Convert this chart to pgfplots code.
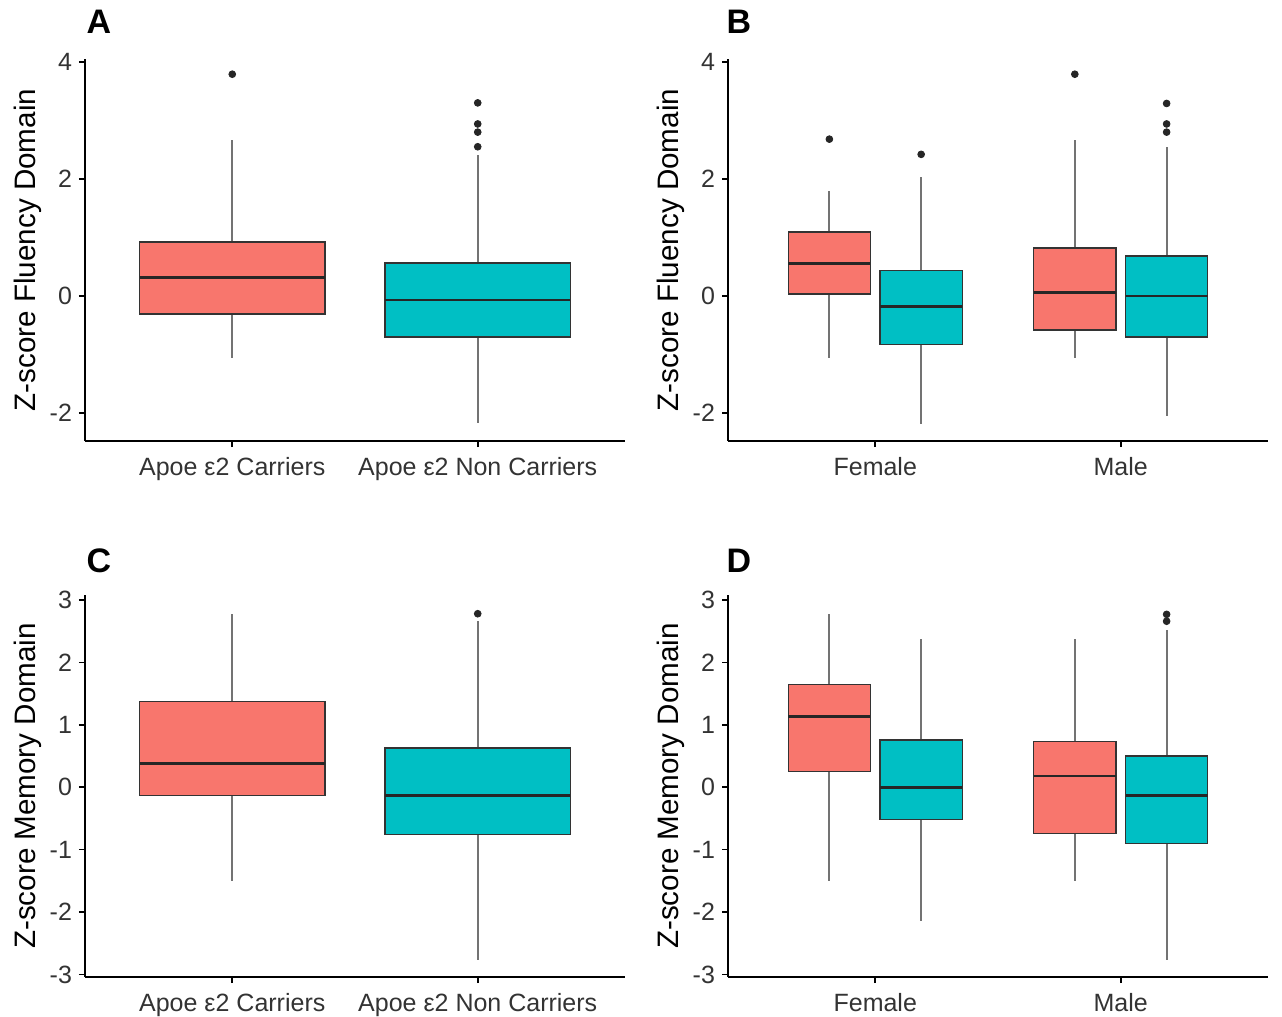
\documentclass[border=0pt]{standalone}
\usepackage{fontspec}
\setmainfont{Liberation Sans}
\usepackage{pgfplots}
\pgfplotsset{compat=1.18}
\usepgfplotslibrary{statistics}
\definecolor{cRed}{HTML}{F8766D}
\definecolor{cTeal}{HTML}{00BFC4}
\definecolor{tickgray}{HTML}{333333}
\pgfplotsset{gg/.style={
  width=270pt, height=191pt, scale only axis,
  axis lines=left, axis line style={-, black, line width=0.8pt},
  tick align=outside, major tick length=3pt, tick style={black, line width=0.8pt},
  /pgf/number format/assume math mode=true,
  ticklabel style={font=\fontsize{12.5}{14}\selectfont, text=tickgray},
  xticklabel style={yshift=-1.5pt},
  ylabel style={font=\fontsize{14.8}{16}\selectfont, at={(axis description cs:-0.105,0.5)}, anchor=center},
  boxplot/draw direction=y,
  boxplot/whisker extend=0,
  boxplot/every whisker/.style={draw=black!55, line width=1pt},
  boxplot/every median/.style={draw=black!85, line width=1.4pt},
  boxplot/every box/.style={draw=black!80, line width=0.7pt},
  clip=false,
},
ob/.style={mark=*, mark size=1.7pt, mark options={draw=black!85, fill=black!85}},
}
\begin{document}
\begin{tikzpicture}
\useasboundingbox (0,0) rectangle (641pt,-508.5pt);
% Panel A
\begin{axis}[gg, at={(42.5pt,-220.5pt)}, anchor=south west,
  xmin=0.4, xmax=2.6, ymin=-2.48, ymax=4.05,
  xtick={1,2}, xticklabels={Apoe ε2 Carriers, Apoe ε2 Non Carriers},
  ytick={-2,0,2,4}, ylabel={Z-score Fluency Domain}]
\addplot[ob, boxplot prepared={draw position=1, box extend=0.755, lower whisker=-1.06, lower quartile=-0.31, median=0.31, upper quartile=0.92, upper whisker=2.67}, boxplot/every box/.append style={fill=cRed}] coordinates {(0,3.79)};
\addplot[ob, boxplot prepared={draw position=2, box extend=0.755, lower whisker=-2.17, lower quartile=-0.70, median=-0.07, upper quartile=0.56, upper whisker=2.41}, boxplot/every box/.append style={fill=cTeal}] coordinates {(0,2.55) (0,2.80) (0,2.94) (0,3.30)};
\end{axis}
% Panel B
\begin{axis}[gg, at={(364pt,-220.5pt)}, anchor=south west,
  xmin=0.4, xmax=2.6, ymin=-2.48, ymax=4.05,
  xtick={1,2}, xticklabels={Female, Male},
  ytick={-2,0,2,4}, ylabel={Z-score Fluency Domain}]
\addplot[ob, boxplot prepared={draw position=0.813, box extend=0.335, lower whisker=-1.06, lower quartile=0.03, median=0.56, upper quartile=1.09, upper whisker=1.80}, boxplot/every box/.append style={fill=cRed}] coordinates {(0,2.68)};
\addplot[ob, boxplot prepared={draw position=1.187, box extend=0.335, lower whisker=-2.19, lower quartile=-0.83, median=-0.18, upper quartile=0.43, upper whisker=2.04}, boxplot/every box/.append style={fill=cTeal}] coordinates {(0,2.42)};
\addplot[ob, boxplot prepared={draw position=1.813, box extend=0.335, lower whisker=-1.06, lower quartile=-0.58, median=0.06, upper quartile=0.82, upper whisker=2.67}, boxplot/every box/.append style={fill=cRed}] coordinates {(0,3.79)};
\addplot[ob, boxplot prepared={draw position=2.187, box extend=0.335, lower whisker=-2.06, lower quartile=-0.70, median=0.0, upper quartile=0.68, upper whisker=2.55}, boxplot/every box/.append style={fill=cTeal}] coordinates {(0,2.80) (0,2.94) (0,3.29)};
\end{axis}
% Panel C
\begin{axis}[gg, at={(42.5pt,-488.5pt)}, anchor=south west,
  xmin=0.4, xmax=2.6, ymin=-3.04, ymax=3.08,
  xtick={1,2}, xticklabels={Apoe ε2 Carriers, Apoe ε2 Non Carriers},
  ytick={-3,-2,-1,0,1,2,3}, ylabel={Z-score Memory Domain}]
\addplot[ob, boxplot prepared={draw position=1, box extend=0.755, lower whisker=-1.50, lower quartile=-0.13, median=0.385, upper quartile=1.37, upper whisker=2.77}, boxplot/every box/.append style={fill=cRed}] coordinates {};
\addplot[ob, boxplot prepared={draw position=2, box extend=0.755, lower whisker=-2.76, lower quartile=-0.76, median=-0.13, upper quartile=0.63, upper whisker=2.66}, boxplot/every box/.append style={fill=cTeal}] coordinates {(0,2.78)};
\end{axis}
% Panel D
\begin{axis}[gg, at={(364pt,-488.5pt)}, anchor=south west,
  xmin=0.4, xmax=2.6, ymin=-3.04, ymax=3.08,
  xtick={1,2}, xticklabels={Female, Male},
  ytick={-3,-2,-1,0,1,2,3}, ylabel={Z-score Memory Domain}]
\addplot[ob, boxplot prepared={draw position=0.813, box extend=0.335, lower whisker=-1.50, lower quartile=0.25, median=1.13, upper quartile=1.65, upper whisker=2.77}, boxplot/every box/.append style={fill=cRed}] coordinates {};
\addplot[ob, boxplot prepared={draw position=1.187, box extend=0.335, lower whisker=-2.14, lower quartile=-0.52, median=0.0, upper quartile=0.76, upper whisker=2.37}, boxplot/every box/.append style={fill=cTeal}] coordinates {};
\addplot[ob, boxplot prepared={draw position=1.813, box extend=0.335, lower whisker=-1.50, lower quartile=-0.74, median=0.18, upper quartile=0.73, upper whisker=2.37}, boxplot/every box/.append style={fill=cRed}] coordinates {};
\addplot[ob, boxplot prepared={draw position=2.187, box extend=0.335, lower whisker=-2.76, lower quartile=-0.90, median=-0.13, upper quartile=0.50, upper whisker=2.52}, boxplot/every box/.append style={fill=cTeal}] coordinates {(0,2.66) (0,2.77)};
\end{axis}
\node[font=\bfseries\fontsize{17}{19}\selectfont] at (49.5pt,-11pt) {A};
\node[font=\bfseries\fontsize{17}{19}\selectfont] at (369.5pt,-11pt) {B};
\node[font=\bfseries\fontsize{17}{19}\selectfont] at (49.5pt,-280.5pt) {C};
\node[font=\bfseries\fontsize{17}{19}\selectfont] at (369.5pt,-280.5pt) {D};
\end{tikzpicture}
\end{document}
